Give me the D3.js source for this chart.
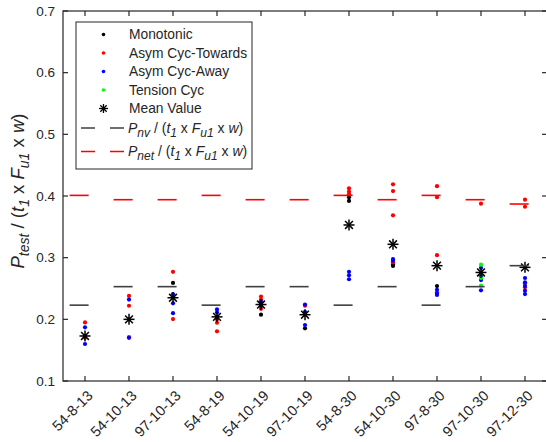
<!DOCTYPE html>
<html lang="en">
<head>
<meta charset="utf-8">
<title>P_test ratio by specimen</title>
<script src="https://cdn.jsdelivr.net/npm/d3@7"></script>
<style>
  body { margin: 0; background: #fff; }
  text { font-family: "Liberation Sans", Arial, Helvetica, sans-serif; fill: #262626; }
</style>
</head>
<body>
<script>
// categories (specimens)
var categories = ["54-8-13", "54-10-13", "97-10-13", "54-8-19", "54-10-19", "97-10-19",
                  "54-8-30", "54-10-30", "97-8-30", "97-10-30", "97-12-30"];

// values per category
var monotonic = [[], [], [0.259], [], [0.2075], [0.1855], [0.398, 0.392], [0.289, 0.2865], [0.254], [], []];
var towards = [[0.195, 0.170], [0.238, 0.222, 0.171], [0.277, 0.235, 0.2005], [0.204, 0.200, 0.1945, 0.1805],
               [0.237, 0.232, 0.217], [0.222, 0.2075], [0.4125, 0.407, 0.4027], [0.419, 0.408, 0.3687, 0.2925],
               [0.416, 0.398, 0.304, 0.2438], [0.3875], [0.394, 0.3826, 0.258, 0.252]];
var away = [[0.187, 0.173, 0.160], [0.232, 0.200, 0.170], [0.241, 0.226, 0.210], [0.216, 0.211],
            [0.2286, 0.2215], [0.224, 0.212, 0.1908], [0.277, 0.2714, 0.265], [0.2978, 0.295],
            [0.248, 0.2416, 0.2395], [0.2833, 0.270, 0.2637, 0.247], [0.267, 0.260, 0.254, 0.2465, 0.241]];
var tension = [[], [], [], [], [], [], [], [], [], [0.2886, 0.276, 0.267, 0.2546], []];
var meanValue = [0.173, 0.200, 0.235, 0.204, 0.224, 0.2075, 0.353, 0.3217, 0.287, 0.276, 0.2843];
var pnv = [0.223, 0.253, 0.253, 0.223, 0.253, 0.253, 0.223, 0.253, 0.223, 0.253, 0.287];
var pnet = [0.401, 0.394, 0.394, 0.401, 0.394, 0.394, 0.401, 0.394, 0.401, 0.394, 0.387];
var yTicks = [0.1, 0.2, 0.3, 0.4, 0.5, 0.6, 0.7];

var w = 546, h = 442;
var axisColor = "#262626";

var svg = d3.select("body").append("svg")
  .attr("width", w)
  .attr("height", h);

var xScale = d3.scaleLinear().domain([0.5, 11.5]).range([63, 547]);
var yScale = d3.scaleLinear().domain([0.1, 0.7]).range([381, 11]);

var x0 = xScale(0.5), x1 = xScale(11.5), y0 = yScale(0.1), y1 = yScale(0.7);

// reference lines (dashed, one dash visible per category)
function refLines(data, color, cls) {
  svg.selectAll("line." + cls)
    .data(data)
    .enter()
    .append("line")
    .attr("class", cls)
    .attr("x1", function(d, i) { return xScale(i + 1 - 0.35); })
    .attr("x2", function(d, i) { return xScale(i + 1 + 0.35); })
    .attr("y1", function(d) { return yScale(d); })
    .attr("y2", function(d) { return yScale(d); })
    .attr("stroke", color)
    .attr("stroke-width", 1.6)
    .attr("stroke-dasharray", "19,14");
}

// points
function flat(arr) {
  var out = [];
  arr.forEach(function(vals, i) {
    vals.forEach(function(v) { out.push([i + 1, v]); });
  });
  return out;
}

function dots(arr, color) {
  svg.append("g")
    .selectAll("circle")
    .data(flat(arr))
    .enter()
    .append("circle")
    .attr("cx", function(d) { return xScale(d[0]); })
    .attr("cy", function(d) { return yScale(d[1]); })
    .attr("r", 2.1)
    .attr("fill", color);
}

function star(g, cx, cy, r, sw) {
  var k = r * Math.SQRT1_2;
  var segs = [[-r, 0, r, 0], [0, -r, 0, r], [-k, -k, k, k], [-k, k, k, -k]];
  segs.forEach(function(s) {
    g.append("line")
      .attr("x1", cx + s[0]).attr("y1", cy + s[1])
      .attr("x2", cx + s[2]).attr("y2", cy + s[3])
      .attr("stroke", "#000")
      .attr("stroke-width", sw);
  });
}

dots(monotonic, "#000000");
dots(towards, "#ff0000");
dots(away, "#0000ff");
dots(tension, "#00ff00");

var starG = svg.append("g");
meanValue.forEach(function(v, i) {
  star(starG, xScale(i + 1), yScale(v), 5.5, 1.5);
});

refLines(pnv, "#404040", "pnv");
refLines(pnet, "#ff0000", "pnet");

// axes box
var ax = svg.append("g").attr("stroke", axisColor).attr("stroke-width", 1.2).attr("fill", "none");
ax.append("rect").attr("x", x0).attr("y", y1).attr("width", x1 - x0).attr("height", y0 - y1);

categories.forEach(function(c, i) {
  var x = xScale(i + 1);
  ax.append("line").attr("x1", x).attr("x2", x).attr("y1", y0).attr("y2", y0 - 5);
  ax.append("line").attr("x1", x).attr("x2", x).attr("y1", y1).attr("y2", y1 + 5);
});
yTicks.forEach(function(t) {
  var y = yScale(t);
  ax.append("line").attr("x1", x0).attr("x2", x0 + 5).attr("y1", y).attr("y2", y);
  ax.append("line").attr("x1", x1).attr("x2", x1 - 5).attr("y1", y).attr("y2", y);
});

// tick labels
svg.append("g").selectAll("text")
  .data(yTicks)
  .enter()
  .append("text")
  .attr("x", x0 - 8)
  .attr("y", function(d) { return yScale(d); })
  .attr("dy", "0.35em")
  .attr("text-anchor", "end")
  .attr("font-size", 13.5)
  .text(function(d) { return d3.format(".1f")(d); });

svg.append("g").selectAll("text")
  .data(categories)
  .enter()
  .append("text")
  .attr("transform", function(d, i) {
    return "translate(" + (xScale(i + 1) + 5) + "," + (y0 + 12) + ") rotate(-45)";
  })
  .attr("dy", "0.35em")
  .attr("text-anchor", "end")
  .attr("font-size", 14.5)
  .text(function(d) { return d; });

// y label
var yl = svg.append("text")
  .attr("transform", "translate(24," + ((y0 + y1) / 2 - 5) + ") rotate(-90)")
  .attr("text-anchor", "middle")
  .attr("font-size", 18.5);
function labelParts(el, parts) {
  parts.forEach(function(p) {
    var t = el.append("tspan").text(p[0]);
    if (p[1]) t.attr("font-style", "italic");
    if (p[2]) t.attr("dy", p[2]);
    if (p[3]) t.attr("font-size", p[3]);
  });
}
labelParts(yl, [["P", true], ["test", true, "5", 14], [" / (", false, "-5"], ["t", true],
  ["1", true, "5", 14], [" x ", false, "-5"], ["F", true], ["u1", true, "5", 14],
  [" x ", false, "-5"], ["w", true], [")", false]]);

// legend
var lg = svg.append("g");
lg.append("rect")
  .attr("x", 76).attr("y", 22).attr("width", 176).attr("height", 147)
  .attr("fill", "#fff").attr("stroke", axisColor).attr("stroke-width", 1);

var legendItems = [
  { label: "Monotonic", color: "#000000", y: 34.5 },
  { label: "Asym Cyc-Towards", color: "#ff0000", y: 53 },
  { label: "Asym Cyc-Away", color: "#0000ff", y: 71.5 },
  { label: "Tension Cyc", color: "#00ff00", y: 90 }
];
legendItems.forEach(function(d) {
  lg.append("circle").attr("cx", 103.5).attr("cy", d.y).attr("r", 1.8).attr("fill", d.color);
  lg.append("text").attr("x", 129).attr("y", d.y).attr("dy", "0.35em").attr("font-size", 13.8).text(d.label);
});
star(lg, 103.5, 108.5, 4.5, 1.3);
lg.append("text").attr("x", 129).attr("y", 108.5).attr("dy", "0.35em").attr("font-size", 13.8).text("Mean Value");

[{ sub: "nv", color: "#404040", y: 128 }, { sub: "net", color: "#ff0000", y: 151.5 }].forEach(function(d) {
  lg.append("line").attr("x1", 81).attr("x2", 124).attr("y1", d.y).attr("y2", d.y)
    .attr("stroke", d.color).attr("stroke-width", 1.5).attr("stroke-dasharray", "14,15");
  var t = lg.append("text").attr("x", 128).attr("y", d.y).attr("dy", "0.35em").attr("font-size", 14);
  labelParts(t, [["P", true], [d.sub, true, "4", 12], [" / (", false, "-4"], ["t", true],
    ["1", true, "4", 12], [" x ", false, "-4"], ["F", true], ["u1", true, "4", 12],
    [" x ", false, "-4"], ["w", true], [")", false]]);
});
</script>
</body>
</html>
